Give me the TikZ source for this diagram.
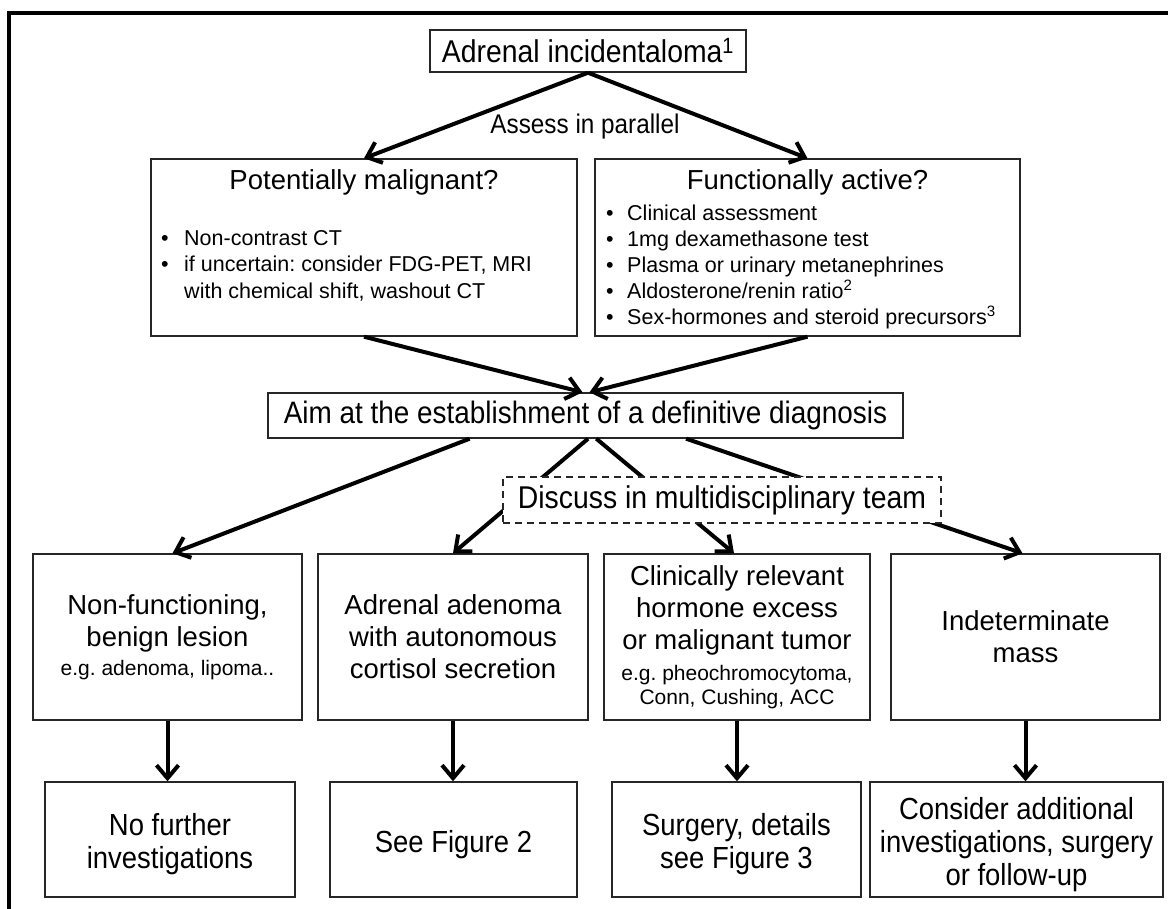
\documentclass[tikz,border=0pt]{standalone}
\usepackage{fontspec}
\setmainfont{Liberation Sans}
\newfontfamily\narrowfont[FakeStretch=0.9]{Liberation Sans}
\usetikzlibrary{arrows.meta,calc}
\frenchspacing
% extra room above the first line of the lower boxes
\newcommand\firstline{\rule{0pt}{32pt}}
\newcommand\smalltxt{\fontsize{21}{26}\selectfont}

\begin{document}
\begin{tikzpicture}[x=1pt,y=-1pt,
  box/.style={draw=black!85, line width=1.4pt, fill=white, inner sep=0pt, align=center},
  plain/.style={inner sep=0pt, align=center},
  flow/.style={line width=4pt, -{Straight Barb[length=13pt,width=22pt]}},
  narrowtxt/.style={font=\narrowfont\fontsize{30.5}{33}\selectfont},
  midtxt/.style={font=\fontsize{27.5}{32}\selectfont},
  listtxt/.style={inner sep=0pt, anchor=north west, align=left}
]
\useasboundingbox (0,0) rectangle (1168,909);
\fill[white] (0,0) rectangle (1168,909);

% frame along the left and top edges
\draw[line width=4.5pt] (9,909) -- (9,13) -- (1168,13);

% start
\node[box, minimum width=316pt, minimum height=42pt,
      font=\narrowfont\fontsize{31.5}{34}\selectfont] (top) at (588,51)
  {Adrenal incidentaloma\textsuperscript{1}};
\node[plain, font=\narrowfont\fontsize{27}{30}\selectfont] (par) at (585,127) {Assess in parallel};

% parallel assessment
\node[box, minimum width=426pt, minimum height=177pt] (pm) at (364,247.5) {};
\node[plain, font=\fontsize{27.5}{32}\selectfont] (pmt) at (364,182) {Potentially malignant?};
\node[listtxt, font=\fontsize{21.5}{26.5}\selectfont] (pml) at (161,226.5)
  {\begin{tabular}{@{}l@{\hspace{15.5pt}}l@{}}
   \textbullet & Non-contrast CT\\
   \textbullet & if uncertain: consider FDG-PET, MRI\\
               & with chemical shift, washout CT
   \end{tabular}};

\node[box, minimum width=425pt, minimum height=177pt] (fa) at (807.5,247.5) {};
\node[plain, font=\fontsize{27.5}{32}\selectfont] (fat) at (807.5,182) {Functionally active?};
\node[listtxt, font=\fontsize{21.5}{26}\selectfont] (fal) at (606,201.8)
  {\begin{tabular}{@{}l@{\hspace{13.5pt}}l@{}}
   \textbullet & Clinical assessment\\
   \textbullet & 1mg dexamethasone test\\
   \textbullet & Plasma or urinary metanephrines\\
   \textbullet & Aldosterone/renin ratio\textsuperscript{2}\\
   \textbullet & Sex-hormones and steroid precursors\textsuperscript{3}
   \end{tabular}};

% diagnosis
\node[box, minimum width=635pt, minimum height=45pt,
      font=\narrowfont\fontsize{31}{34}\selectfont] (aim) at (585.5,415.5)
  {Aim at the establishment of a definitive diagnosis};

% outcome categories
\node[box, midtxt, minimum width=269pt, minimum height=166pt] (m1) at (167.5,637)
  {Non-functioning,\\ benign lesion\\[-3pt] {\smalltxt e.g. adenoma, lipoma..}};
\node[box, midtxt, minimum width=270pt, minimum height=166pt] (m2) at (453,637)
  {Adrenal adenoma\\ with autonomous\\ cortisol secretion};
\node[box, midtxt, minimum width=266pt, minimum height=166pt] (m3) at (737,637)
  {Clinically relevant\\ hormone excess\\ or malignant tumor\\[-1pt]
   {\smalltxt e.g. pheochromocytoma,}\\[-8pt]
   {\smalltxt Conn, Cushing, ACC}};
\node[box, midtxt, minimum width=269pt, minimum height=166pt] (m4) at (1025.5,637)
  {Indeterminate\\ mass};

% management
\node[box, narrowtxt, minimum width=250pt, minimum height=115pt] (b1) at (170,839.5)
  {\firstline No further\\ investigations};
\node[box, narrowtxt, minimum width=247pt, minimum height=115pt] (b2) at (453.5,839.5)
  {\firstline See Figure 2};
\node[box, narrowtxt, minimum width=249pt, minimum height=115pt] (b3) at (736.5,839.5)
  {\firstline Surgery, details\\ see Figure 3};
\node[box, narrowtxt, minimum width=293pt, minimum height=115pt] (b4) at (1016.5,839.5)
  {\firstline Consider additional\\ investigations, surgery\\ or follow-up};

% connectors
\draw[flow] (top.south) -- (pm.north);
\draw[flow] (top.south) -- (fa.north);
\draw[flow] (pm.south) -- ($(aim.north)+(-3,0)$);
\draw[flow] (fa.south) -- ($(aim.north)+(4,0)$);

\draw[flow] ($(aim.south west)!0.318!(aim.south east)$) -- ($(m1.north)+(5,0)$);
\draw[flow] ($(aim.south west)!0.504!(aim.south east)$) -- (m2.north);
\draw[flow] ($(aim.south west)!0.517!(aim.south east)$) -- ($(m3.north)+(-3,0)$);
\draw[flow] ($(aim.south west)!0.658!(aim.south east)$) -- ($(m4.north)+(-3,0)$);

\foreach \i in {1,2,3,4}
  \draw[flow] (m\i.south) -- (m\i.south |- b\i.north);

% team discussion, laid over the crossing connectors
\node[box, dash pattern=on 7pt off 5pt, minimum width=438pt, minimum height=46pt,
      font=\narrowfont\fontsize{31.5}{34}\selectfont] (mdt) at (722,500)
  {Discuss in multidisciplinary team};
\end{tikzpicture}
\end{document}
